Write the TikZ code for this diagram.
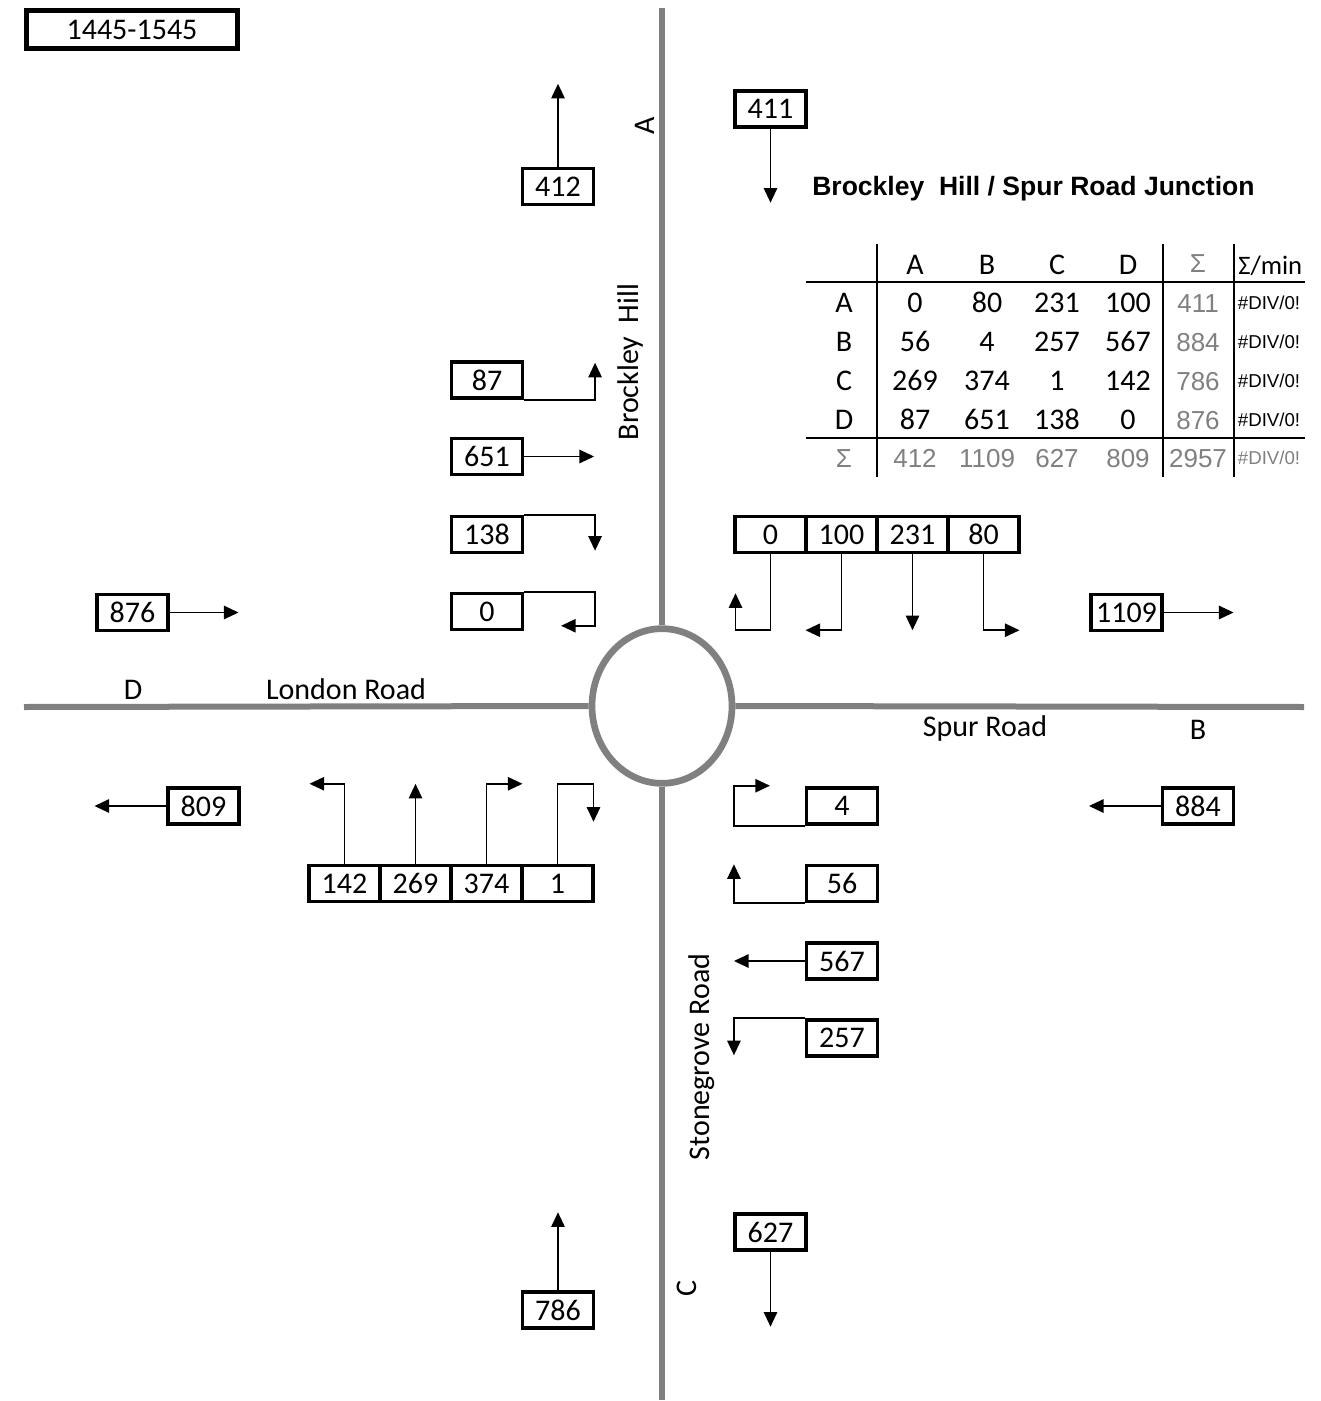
\documentclass[tikz,border=0pt]{standalone}
\usepackage{fontspec}
\setmainfont{Carlito}
\newfontfamily\arialf{Liberation Sans}
\usetikzlibrary{arrows.meta,shapes.geometric}
\begin{document}
\begin{tikzpicture}[x=0.75pt,y=-0.75pt,
  box/.style={draw,line width=2.6pt,minimum width=53pt,minimum height=27pt,inner sep=0pt,font=\fontsize{22.5}{26}\selectfont},
  arr/.style={line width=1.4pt,-{Triangle[length=11pt,width=10pt]}},
  road/.style={draw=gray,line width=4.5pt},
  lbl/.style={font=\fontsize{22.5}{26}\selectfont,inner sep=0pt},
  tc/.style={lbl,text height=14pt,text depth=0pt},
  tg/.style={font=\arialf\fontsize{19.5}{23}\selectfont,text=gray,inner sep=0pt,text height=14pt,text depth=0pt},
  td/.style={font=\arialf\fontsize{14}{16}\selectfont,inner sep=0pt,text height=10pt,text depth=0pt},
  tline/.style={line width=2.2pt}]
\useasboundingbox (0,0) rectangle (1320,1401);
% roads
\node[ellipse,draw=gray,line width=5pt,minimum width=105pt,minimum height=116pt,inner sep=0pt] (rb) at (662,706) {};
\draw[road] (662,8) -- (rb.north);
\draw[road] (rb.south) -- (662,1400);
\draw[road] (24,707) -- (rb.west);
\draw[road] (rb.east) -- (1304,707);
% time box
\node[draw,line width=3.8pt,minimum width=158pt,minimum height=28.5pt,inner sep=0pt,font=\fontsize{22.5}{26}\selectfont] (time) at (132,29.5) {1445-1545};
% road labels
\node[lbl,rotate=90] (la) at (645,126) {A};
\node[lbl,rotate=90] (lbh) at (630,362) {Brockley\ \ Hill};
\node[lbl] (ld) at (133,690) {D};
\node[lbl] (llr) at (346,689) {London Road};
\node[lbl] (lsr) at (985,728) {Spur Road};
\node[lbl] (lb) at (1198,730) {B};
\node[lbl,rotate=90] (lsg) at (702,1057) {Stonegrove Road};
\node[lbl,rotate=90] (lc) at (687,1288) {C};
\node[anchor=west,inner sep=0pt,font=\arialf\bfseries\fontsize{19.9}{24}\selectfont] (title) at (812,189) {Brockley\ \ Hill / Spur Road Junction};
% top boxes
\node[box] (b412) at (558,186.5) {412};
\node[box] (b411) at (770.5,109) {411};
\draw[arr] (b412.north) -- ++(0,-83);
\draw[arr] (b411.south) -- ++(0,74);
% left (D) boxes
\node[box] (b87) at (487,380) {87};
\node[box] (b651) at (487,456.5) {651};
\node[box] (b138) at (487,534.5) {138};
\node[box] (b0l) at (487,611.5) {0};
\node[box] (b876) at (132.5,612.5) {876};
\draw[arr] (b87.south east) -- ++(71,0) -- ++(0,-37);
\draw[arr] (b651.east) -- ++(70,0);
\draw[arr] (b138.north east) -- ++(71,0) -- ++(0,36);
\draw[arr] (b0l.north east) -- ++(71,0) -- ++(0,34) -- ++(-34,0);
\draw[arr] (b876.east) -- ++(69,0);
% top-right row
\foreach \n/\v/\x in {c0/0/770.5,c100/100/841.5,c231/231/912.5,c80/80/983.5}
  \node[box,minimum width=53.25pt] (\n) at (\x,534.5) {\v};
\draw[arr] (c0.south) -- ++(0,76) -- ++(-35,0) -- ++(0,-37);
\draw[arr] (c100.south) -- ++(0,76) -- ++(-36,0);
\draw[arr] (c231.south) -- ++(0,76);
\draw[arr] (c80.south) -- ++(0,76) -- ++(36,0);
\node[box] (b1109) at (1126.5,612.5) {1109};
\draw[arr] (b1109.east) -- ++(70,0);
% bottom-left
\node[box] (b809) at (203.5,806) {809};
\draw[arr] (b809.west) -- ++(-72,0);
\foreach \n/\v/\x in {c142/142/344.5,c269/269/415.5,c374/374/486.5,c1/1/557.5}
  \node[box,minimum width=53.25pt] (\n) at (\x,883.5) {\v};
\draw[arr] (c142.north) -- ++(0,-80) -- ++(-35,0);
\draw[arr] (c269.north) -- ++(0,-80);
\draw[arr] (c374.north) -- ++(0,-80) -- ++(36,0);
\draw[arr] (c1.north) -- ++(0,-80) -- ++(36,0) -- ++(0,38);
% bottom-right
\node[box] (b4) at (842,806) {4};
\node[box] (b56) at (842,883.5) {56};
\node[box] (b567) at (842,961) {567};
\node[box] (b257) at (842,1038) {257};
\node[box] (b884) at (1198,806) {884};
\draw[arr] (b4.south west) -- ++(-71,0) -- ++(0,-40) -- ++(36,0);
\draw[arr] (b56.south west) -- ++(-71,0) -- ++(0,-39);
\draw[arr] (b567.west) -- ++(-71,0);
\draw[arr] (b257.north west) -- ++(-71,0) -- ++(0,37);
\draw[arr] (b884.west) -- ++(-72,0);
% bottom
\node[box] (b786) at (558,1310) {786};
\node[box] (b627) at (770.5,1232) {627};
\draw[arr] (b786.north) -- ++(0,-78);
\draw[arr] (b627.south) -- ++(0,75);
% table
\draw[tline] (877,244) -- (877,477);
\draw[tline] (1163,244) -- (1163,477);
\draw[tline] (1234,244) -- (1234,477);
\draw[tline] (806,282) -- (1305,282);
\draw[tline] (806,438) -- (1305,438);
\foreach \t/\x in {A/915,B/987,C/1057,D/1128}
  \node[tc] at (\x,265) {\t};
\node[tg] at (1198,263) {Σ};
\node[tc,anchor=west,font=\fontsize{20}{24}\selectfont] at (1238,265) {Σ/min};
\foreach \r/\y/\a/\b/\c/\d/\s in {A/303/0/80/231/100/411,B/342/56/4/257/567/884,C/381/269/374/1/142/786,D/420/87/651/138/0/876}{
  \node[tc] at (844,\y) {\r};
  \node[tc] at (915,\y) {\a};
  \node[tc] at (987,\y) {\b};
  \node[tc] at (1057,\y) {\c};
  \node[tc] at (1128,\y) {\d};
  \node[tg] at (1198,\y) {\s};
  \node[td] at (1269,\y) {\#DIV/0!};
}
\node[tg] at (844,458) {Σ};
\foreach \v/\x in {412/915,1109/987,627/1057,809/1128,2957/1198}
  \node[tg] at (\x,458) {\v};
\node[td,text=gray] at (1269,458) {\#DIV/0!};
\end{tikzpicture}
\end{document}
